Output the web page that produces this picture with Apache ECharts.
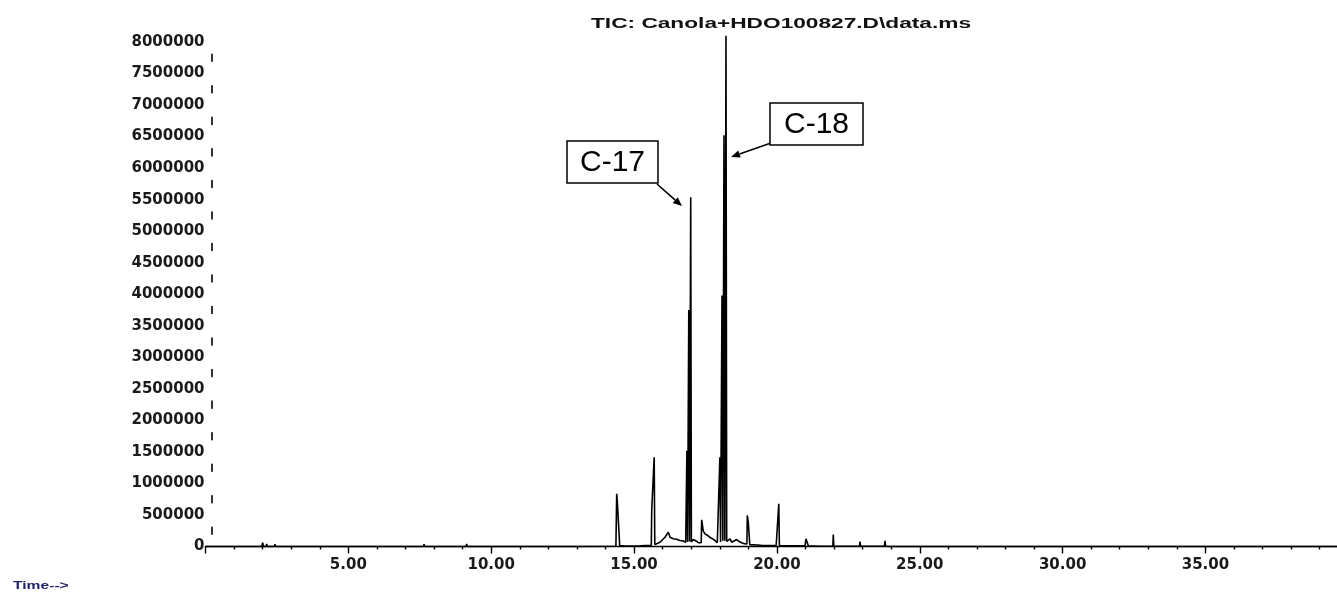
<!DOCTYPE html>
<html>
<head>
<meta charset="utf-8">
<script src="https://cdn.jsdelivr.net/npm/echarts@6/dist/echarts.min.js"></script>
<style>
html,body{margin:0;padding:0;background:#fff;}
#chart{width:1337px;height:594px;}
</style>
</head>
<body>
<div id="chart"></div>
<script>
// ---- data ----
const titleText = 'TIC: Canola+HDO100827.D\\data.ms';
const xAxisName = 'Time-->';

// retention time (min)
const retentionTime = [
  0, 1.97, 2.00, 2.03, 2.12, 2.14, 2.16, 2.41, 2.43, 2.45,
  7.63, 7.65, 7.67, 9.12, 9.14, 9.16, 11.83, 11.85, 11.87, 12.93, 12.95, 12.97,
  14.365, 14.379, 14.393, 14.417, 14.484, 14.498, 14.684, 15.208,
  15.604, 15.618, 15.681, 15.705, 15.726, 15.793, 15.908, 16.083, 16.199, 16.258,
  16.318, 16.374, 16.493, 16.608, 16.724, 16.808,
  16.825, 16.850, 16.874, 16.895, 16.916, 16.944, 16.962, 16.983, 17.007,
  17.074, 17.168, 17.249, 17.308, 17.350, 17.368, 17.424, 17.483, 17.564, 17.658,
  17.753, 17.833, 17.914,
  17.984, 18.005, 18.029, 18.057, 18.079, 18.107, 18.127, 18.148, 18.176, 18.197, 18.218, 18.243,
  18.299, 18.358, 18.418, 18.498, 18.593, 18.674, 18.768, 18.859,
  18.950, 18.964, 18.999, 19.034, 19.051, 19.234, 19.450, 19.468, 19.485, 19.758,
  19.975, 19.993, 20.039, 20.066, 20.087, 20.458,
  20.984, 21.018, 21.071, 21.099, 21.509, 21.957, 21.974, 21.992,
  22.891, 22.909, 22.926, 23.766, 23.784, 23.801, 24.3, 40
];
// total ion current (abundance)
const abundance = [
  0, 0, 60000, 0, 0, 40000, 0, 0, 35000, 0,
  0, 35000, 0, 0, 40000, 0, 0, 30000, 0, 0, 30000, 0,
  5000, 15000, 836000, 690000, 693000, 15000, 8000, 10000,
  20000, 571000, 560000, 1416000, 30000, 50000, 68000, 147000, 227000, 147000,
  163000, 122000, 115000, 95000, 88000, 68000,
  65000, 1520000, 70000, 70000, 3750000, 80000, 80000, 5540000, 70000,
  110000, 88000, 60000, 50000, 60000, 423000, 243000, 201000, 179000, 143000,
  122000, 95000, 59000,
  55000, 1416000, 70000, 70000, 3980000, 90000, 90000, 6520000, 90000, 90000, 8100000, 80000,
  95000, 122000, 68000, 88000, 110000, 80000, 60000, 45000,
  40000, 492000, 380000, 386000, 30000, 25000, 20000, 50000, 15000, 15000,
  20000, 147000, 140000, 677000, 15000, 10000,
  10000, 122000, 110000, 10000, 5000, 5000, 190000, 5000,
  5000, 79000, 5000, 5000, 90000, 5000, 0, 0
];

// annotations
const annotationLabels = ['C-17', 'C-18'];

// axis ranges / ticks
const xMin = 0, xMax = 40, xStep = 5, xLastLabel = 35;
const yMin = 0, yMax = 8000000, yStep = 500000;

const seriesData = retentionTime.map((t, i) => [t, abundance[i]]);

const chart = echarts.init(document.getElementById('chart'), null, {renderer: 'canvas'});

const labelFont = {
  fontFamily: 'DejaVu Sans, Liberation Sans, sans-serif',
  fontWeight: 'bold',
  fontSize: 15,
  color: '#1a1a1a'
};

function arrow(x1, y1, x2, y2) {
  const ang = Math.atan2(y2 - y1, x2 - x1);
  const L = 9, W = 3.8;
  const bx = x2 - L * Math.cos(ang), by = y2 - L * Math.sin(ang);
  const px = -Math.sin(ang) * W, py = Math.cos(ang) * W;
  return [
    {type: 'line', shape: {x1: x1, y1: y1, x2: bx, y2: by}, style: {stroke: '#000', lineWidth: 1.6}, silent: true},
    {type: 'polygon', shape: {points: [[x2, y2], [bx + px, by + py], [bx - px, by - py]]}, style: {fill: '#000'}, silent: true}
  ];
}

const boxFont = '30px "Liberation Sans", Arial, sans-serif';

const graphics = [
  {
    type: 'text', x: 781, y: 24, scaleX: 1.62, silent: true,
    style: {text: titleText, textAlign: 'center', textVerticalAlign: 'middle',
      font: 'bold 14px "Liberation Sans", Arial, sans-serif', fill: '#111'}
  },
  {
    type: 'text', x: 13, y: 586, scaleX: 1.42, silent: true,
    style: {text: xAxisName, textAlign: 'left', textVerticalAlign: 'middle',
      font: 'bold 11px "Liberation Sans", Arial, sans-serif', fill: '#23236a'}
  },
  {type: 'rect', shape: {x: 567, y: 141, width: 91, height: 42},
   style: {fill: '#fff', stroke: '#000', lineWidth: 1.5}, silent: true, z: 10},
  {type: 'text', x: 612.5, y: 163, silent: true, z: 11,
   style: {text: annotationLabels[0], textAlign: 'center', textVerticalAlign: 'middle', font: boxFont, fill: '#000'}},
  {type: 'rect', shape: {x: 770, y: 103, width: 93, height: 42},
   style: {fill: '#fff', stroke: '#000', lineWidth: 1.5}, silent: true, z: 10},
  {type: 'text', x: 816.5, y: 125, silent: true, z: 11,
   style: {text: annotationLabels[1], textAlign: 'center', textVerticalAlign: 'middle', font: boxFont, fill: '#000'}}
].concat(arrow(657, 184, 682, 206)).concat(arrow(771, 143, 731, 157));

chart.setOption({
  animation: false,
  backgroundColor: '#fff',
  grid: {left: 205.5, right: -11.3, top: 42, bottom: 47.5, containLabel: false, outerBoundsMode: 'none'},
  xAxis: {
    type: 'value', min: xMin, max: xMax, interval: xStep,
    axisLine: {show: true, onZero: true, lineStyle: {color: '#000', width: 1.4}},
    axisTick: {show: true, inside: false, length: 7, lineStyle: {color: '#000', width: 1.4}},
    minorTick: {show: true, splitNumber: 5, length: 3, lineStyle: {color: '#000', width: 1.4}},
    splitLine: {show: false},
    minorSplitLine: {show: false},
    axisLabel: Object.assign({
      margin: 11,
      hideOverlap: false,
      formatter: v => (v > 0 && v <= xLastLabel && v % xStep === 0) ? v.toFixed(2) : ''
    }, labelFont)
  },
  yAxis: {
    type: 'value', min: yMin, max: yMax, interval: yStep,
    position: 'left', offset: -6,
    axisLine: {show: true, lineStyle: {color: '#000', width: 1.6, type: [7, 24.53], dashOffset: 19.3}},
    axisTick: {show: false},
    splitLine: {show: false},
    axisLabel: Object.assign({
      margin: 7,
      formatter: v => String(v)
    }, labelFont)
  },
  series: [{
    type: 'line',
    data: seriesData,
    symbol: 'none',
    clip: false,
    sampling: null,
    lineStyle: {color: '#000', width: 1.6},
    z: 3
  }],
  graphic: graphics
});
</script>
</body>
</html>
